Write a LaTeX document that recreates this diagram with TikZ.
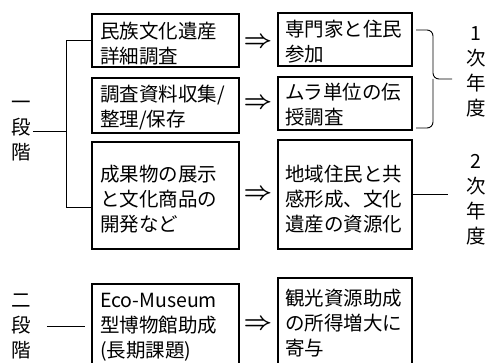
\documentclass[tikz,border=0pt]{standalone}
\usepackage{fontspec}
\setmainfont{Noto Sans CJK JP}
\usetikzlibrary{calc}
\begin{document}
\begin{tikzpicture}[x=1pt,y=-1pt,
  box/.style={draw, line width=1.3pt, inner sep=0pt},
  abox/.style={box, minimum width=147pt},
  bbox/.style={box, minimum width=134pt},
  txt/.style={inner sep=0pt, align=left, font=\fontsize{19.5pt}{25pt}\selectfont},
  atxt/.style={txt, text width=131pt},
  btxt/.style={txt, text width=118pt},
  lbl/.style={inner sep=0pt, align=center, font=\fontsize{19.5pt}{25pt}\selectfont},
  conn/.style={line width=0.9pt},
  arr/.style={inner sep=0pt, font=\fontsize{25pt}{25pt}\selectfont\boldmath}
]
\clip (0,0) rectangle (490,363);
% left boxes
\node[abox, minimum height=53pt]  (a1) at (165.5,40.5) {};
\node[abox, minimum height=55pt]  (a2) at (165.5,105.5) {};
\node[abox, minimum height=107pt] (a3) at (165.5,195.5) {};
\node[abox, minimum height=96pt]  (a4) at (165.5,332) {};
% right boxes
\node[bbox, minimum height=53pt]  (b1) at (345,39.5) {};
\node[bbox, minimum height=53pt]  (b2) at (345,103.5) {};
\node[bbox, minimum height=109pt] (b3) at (345,194.5) {};
\node[bbox, minimum height=102pt] (b4) at (345,329) {};
% texts
\node[atxt] (a1t) at (165.5,43.5) {民族文化遺産\\詳細調査};
\node[atxt] (a2t) at (165.5,108) {調査資料収集/\\整理/保存};
\node[atxt] (a3t) at (165.5,199.5) {成果物の展示\\と文化商品の\\開発など};
\node[atxt] (a4t) at (165.5,327) {Eco-Museum\\型博物館助成\\(長期課題)};
\node[btxt] (b1t) at (344,42) {専門家と住民\\参加};
\node[btxt] (b2t) at (344,105) {ムラ単位の伝\\授調査};
\node[btxt] (b3t) at (344,199) {地域住民と共\\感形成、文化\\遺産の資源化};
\node[btxt] (b4t) at (344,323) {観光資源助成\\の所得増大に\\寄与};
% arrows
\node[arr] (r1) at (258,43) {$\Rightarrow$};
\node[arr] (r2) at (258,104) {$\Rightarrow$};
\node[arr] (r3) at (258,195) {$\Rightarrow$};
\node[arr] (r4) at (258,325) {$\Rightarrow$};
% stage labels
\node[lbl] (s1) at (21,131) {一\\段\\階};
\node[lbl] (s2) at (21,326) {二\\段\\階};
\coordinate (bt) at (66,40.5);
\coordinate (bb) at (66,207);
\draw[conn] (a1.west) -- (bt) -- (bb) -- (bb -| a3.west);
\draw[conn] ([xshift=2pt]s1.east) -- (s1.east -| bt);
\draw[conn] ([xshift=16pt]s2.east) -- ([xshift=-6pt]s2.east -| a4.west);
% year labels
\node[lbl] (y1) at (476,72) {1\\次\\年\\度};
\node[lbl] (y2) at (476,200) {2\\次\\年\\度};
\coordinate (bra) at (416,30);
\coordinate (brb) at (416,128);
\coordinate (brm) at (433,79);
\coordinate (brt) at (452,79);
\draw[conn, rounded corners=6pt] (bra) -- (bra -| brm) -- (brm) -- (brt);
\draw[conn, rounded corners=6pt] (brb) -- (brb -| brm) -- (brm);
\coordinate (ye) at (448,194.5);
\draw[conn] (b3.east) -- (ye);
\end{tikzpicture}
\end{document}
